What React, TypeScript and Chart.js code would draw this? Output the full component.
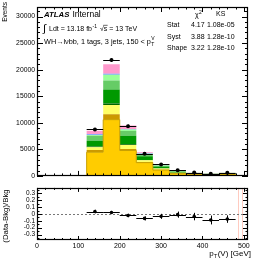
import React, { useEffect, useRef } from 'react';
import { Chart, registerables } from 'chart.js';
Chart.register(...registerables);

const FONT = '"Liberation Sans", Arial, Helvetica, sans-serif';

// ---- data ----
const binEdges = [0, 120, 160, 200, 240, 280, 320, 360, 400, 440, 480, 510];
const ttbar = [0, 4470, 10590, 4780, 2500, 1100, 480, 250, 150, 280, 0];
const stopBkg = [0, 420, 1040, 290, 100, 50, 30, 60, 90, 40, 0];
const wtBkg = [0, 500, 1710, 740, 340, 250, 70, 40, 20, 40, 0];
const wbb = [0, 170, 310, 140, 60, 50, 30, 20, 40, 20, 0];
const wbc = [0, 1060, 2630, 1590, 680, 330, 180, 150, 90, 140, 0];
const wbl = [0, 920, 1660, 910, 240, 150, 90, 50, 20, 40, 0];
const wcc = [0, 180, 1100, 300, 270, 100, 60, 30, 15, 20, 0];
const zjets = [0, 110, 190, 100, 60, 30, 20, 10, 5, 10, 0];
const multijet = [0, 670, 1780, 630, 200, 180, 120, 50, 20, 50, 0];

const dataCenters = [140, 180, 220, 260, 300, 340, 380, 420, 460];
const dataHalfWidth = [20, 20, 20, 20, 20, 20, 20, 20, 20];
const dataValues = [8750, 21800, 9370, 4180, 2170, 1070, 630, 415, 595];
const dataErrors = [94, 148, 97, 65, 47, 33, 25, 20, 24];

const ratioValues = [0.035, 0.022, -0.022, -0.065, -0.035, -0.01, -0.038, -0.088, -0.075];
const ratioErrors = [0.012, 0.008, 0.011, 0.015, 0.022, 0.03, 0.04, 0.05, 0.04];
const ratioMarkerLines = [486, 495, 507];

const mainYTicks = [0, 5000, 10000, 15000, 20000, 25000, 30000];
const xTicks = [0, 100, 200, 300, 400, 500];
const ratioYTicks = [-0.3, -0.2, -0.1, 0, 0.1, 0.2, 0.3];

const statsRows = [
  ['Stat', '4.17', '1.08e-05'],
  ['Syst', '3.88', '1.28e-10'],
  ['Shape', '3.22', '1.28e-10'],
];

const components = [
  { label: 'ttbar', values: ttbar, color: '#FFCC00' },
  { label: 'stop', values: stopBkg, color: '#CC9900' },
  { label: 'Wt', values: wtBkg, color: '#FFFF66' },
  { label: 'Wbb', values: wbb, color: '#006600' },
  { label: 'Wbc', values: wbc, color: '#009900' },
  { label: 'Wbl', values: wbl, color: '#66CC66' },
  { label: 'Wcc', values: wcc, color: '#99FF99' },
  { label: 'Z', values: zjets, color: '#6699FF' },
  { label: 'MJ', values: multijet, color: '#FF99CC' },
];

type TickCfg = {
  xMajor: number; xMinor: number; yMajor: number; yMinor: number;
  xLen: [number, number]; yLen: [number, number];
};

function drawFrameAndTicks(chart: any, cfg: TickCfg) {
  const { ctx, chartArea: a } = chart;
  const xs = chart.scales.x, ys = chart.scales.y;
  ctx.save();
  ctx.strokeStyle = '#000';
  ctx.lineWidth = 1;
  ctx.setLineDash([]);
  ctx.beginPath();
  const isMajor = (v: number, m: number) => Math.abs(v / m - Math.round(v / m)) < 1e-6;
  const kx0 = Math.ceil(xs.min / cfg.xMinor - 1e-9), kx1 = Math.floor(xs.max / cfg.xMinor + 1e-9);
  for (let k = kx0; k <= kx1; k++) {
    const v = k * cfg.xMinor;
    const L = isMajor(v, cfg.xMajor) ? cfg.xLen[0] : cfg.xLen[1];
    const px = Math.round(xs.getPixelForValue(v)) + 0.5;
    ctx.moveTo(px, a.bottom); ctx.lineTo(px, a.bottom - L);
    ctx.moveTo(px, a.top); ctx.lineTo(px, a.top + L);
  }
  const ky0 = Math.ceil(ys.min / cfg.yMinor - 1e-9), ky1 = Math.floor(ys.max / cfg.yMinor + 1e-9);
  for (let k = ky0; k <= ky1; k++) {
    const v = k * cfg.yMinor;
    const L = isMajor(v, cfg.yMajor) ? cfg.yLen[0] : cfg.yLen[1];
    const py = Math.round(ys.getPixelForValue(v)) + 0.5;
    ctx.moveTo(a.left, py); ctx.lineTo(a.left + L, py);
    ctx.moveTo(a.right, py); ctx.lineTo(a.right - L, py);
  }
  ctx.stroke();
  ctx.lineWidth = 1.2;
  ctx.strokeRect(Math.round(a.left) + 0.5, Math.round(a.top) + 0.5,
    Math.round(a.right - a.left) - 1, Math.round(a.bottom - a.top) - 1);
  ctx.restore();
}

function drawErrorBars(chart: any, centers: number[], half: number[], vals: number[], errs: number[]) {
  const { ctx } = chart;
  const xs = chart.scales.x, ys = chart.scales.y;
  ctx.save();
  ctx.strokeStyle = '#000';
  ctx.lineWidth = 1;
  ctx.beginPath();
  for (let i = 0; i < centers.length; i++) {
    const y = Math.round(ys.getPixelForValue(vals[i])) + 0.5;
    ctx.moveTo(xs.getPixelForValue(centers[i] - half[i]), y);
    ctx.lineTo(xs.getPixelForValue(centers[i] + half[i]), y);
    const x = Math.round(xs.getPixelForValue(centers[i])) + 0.5;
    ctx.moveTo(x, ys.getPixelForValue(vals[i] - errs[i]) + 1);
    ctx.lineTo(x, ys.getPixelForValue(vals[i] + errs[i]) - 1);
  }
  ctx.stroke();
  ctx.restore();
}

function drawMainText(chart: any) {
  const { ctx } = chart;
  ctx.save();
  ctx.fillStyle = '#000';
  ctx.strokeStyle = '#000';
  ctx.textBaseline = 'middle';
  ctx.textAlign = 'left';
  // ATLAS Internal
  ctx.font = `italic bold 7.8px ${FONT}`;
  ctx.fillText('ATLAS', 44, 15);
  const wA = ctx.measureText('ATLAS').width;
  ctx.font = `8.5px ${FONT}`;
  ctx.fillText('Internal', 44 + wA + 3, 15);
  // luminosity
  ctx.font = `11px ${FONT}`;
  ctx.fillText('\u222B', 43, 29);
  ctx.font = `7px ${FONT}`;
  const lumi = 'Ldt = 13.18 fb';
  ctx.fillText(lumi, 49, 29.5);
  const wl = ctx.measureText(lumi).width;
  ctx.font = `5px ${FONT}`;
  ctx.fillText('-1', 49 + wl + 0.5, 26.5);
  ctx.font = `7px ${FONT}`;
  ctx.fillText('\u221As = 13 TeV', 100, 29.5);
  const wsq = ctx.measureText('\u221A').width;
  const wsS = ctx.measureText('s').width;
  ctx.beginPath();
  ctx.lineWidth = 0.6;
  ctx.moveTo(100 + wsq - 0.5, 25.3);
  ctx.lineTo(100 + wsq + wsS + 0.3, 25.3);
  ctx.stroke();
  // region
  ctx.font = `7.3px ${FONT}`;
  const reg = 'WH\u2192l\u03BDbb, 1 tags, 3 jets, 150 < p';
  ctx.fillText(reg, 44, 42);
  const wr = ctx.measureText(reg).width;
  ctx.font = `5px ${FONT}`;
  ctx.fillText('T', 44 + wr + 0.3, 44.5);
  ctx.fillText('V', 44 + wr + 0.3, 39);
  // stats table
  ctx.font = `7px ${FONT}`;
  ctx.fillText('\u03C7', 195, 15);
  ctx.font = `5px ${FONT}`;
  ctx.fillText('2', 199, 12.5);
  ctx.font = `7px ${FONT}`;
  ctx.fillText('KS', 216, 14.5);
  const rowY = [25.5, 37, 48.5];
  statsRows.forEach((r, i) => {
    ctx.fillText(r[0], 167, rowY[i]);
    ctx.fillText(r[1], 191, rowY[i]);
    ctx.fillText(r[2], 207, rowY[i]);
  });
  // y title
  ctx.save();
  ctx.translate(5.5, 2);
  ctx.rotate(-Math.PI / 2);
  ctx.textAlign = 'right';
  ctx.font = `6.5px ${FONT}`;
  ctx.fillText('Events', 0, 0);
  ctx.restore();
  ctx.restore();
}

function drawRatioText(chart: any) {
  const { ctx } = chart;
  ctx.save();
  ctx.fillStyle = '#000';
  ctx.textBaseline = 'middle';
  // x title
  ctx.font = `8px ${FONT}`;
  ctx.textAlign = 'right';
  const rest = '(V) [GeV]';
  const wRest = ctx.measureText(rest).width;
  const right = 251;
  ctx.fillText(rest, right, 72);
  ctx.font = `5.5px ${FONT}`;
  const wT = ctx.measureText('T').width;
  ctx.fillText('T', right - wRest - 0.3, 74.5);
  ctx.font = `8px ${FONT}`;
  ctx.fillText('p', right - wRest - wT - 0.6, 72);
  // y title
  ctx.save();
  ctx.translate(6, 34);
  ctx.rotate(-Math.PI / 2);
  ctx.textAlign = 'center';
  ctx.font = `7.8px ${FONT}`;
  ctx.fillText('(Data-Bkg)/Bkg', 0, 0);
  ctx.restore();
  ctx.restore();
}

const nBins = binEdges.length - 1;
const setTicks = (vals: number[]) => (s: any) => { s.ticks = vals.map((v) => ({ value: v })); };

export default function App() {
  const mainRef = useRef<HTMLCanvasElement>(null);
  const ratioRef = useRef<HTMLCanvasElement>(null);

  useEffect(() => {
    let cum = new Array(nBins).fill(0);
    const stackSets = components.map((c, idx) => {
      cum = cum.map((v: number, i: number) => v + c.values[i]);
      const cur = cum;
      return {
        type: 'line' as const,
        label: c.label,
        data: binEdges.map((e, i) => ({ x: e, y: cur[Math.min(i, nBins - 1)] })),
        stepped: true,
        fill: idx === 0 ? 'origin' : '-1',
        backgroundColor: c.color,
        borderColor: idx === 0 ? '#C9A000' : 'rgba(0,0,0,0)',
        borderWidth: idx === 0 ? 1 : 0,
        pointRadius: 0,
        order: 10,
      };
    });
    const dataSet = {
      type: 'scatter' as const,
      label: 'Data',
      data: dataCenters.map((x, i) => ({ x, y: dataValues[i] })),
      pointRadius: 2,
      pointBackgroundColor: '#000',
      pointBorderWidth: 0,
      showLine: false,
      order: -1,
    };

    const mainCfg: TickCfg = { xMajor: 100, xMinor: 20, yMajor: 5000, yMinor: 1000, xLen: [5, 2.5], yLen: [6, 3] };
    const c1 = new Chart(mainRef.current!, {
      type: 'line',
      data: { datasets: [...stackSets, dataSet] as any },
      options: {
        responsive: false,
        devicePixelRatio: 1,
        animation: false,
        layout: { padding: { top: 7, right: 5, bottom: 2, left: 0 } },
        plugins: { legend: { display: false }, tooltip: { enabled: false } },
        scales: {
          x: { type: 'linear', min: 0, max: 510, display: false },
          y: {
            type: 'linear', min: 0, max: 31800,
            grid: { display: false, drawTicks: false },
            border: { display: false },
            ticks: {
              padding: 2, color: '#000', autoSkip: false,
              font: { family: FONT, size: 6.8 },
              callback: (v: any) => String(v),
            },
            afterBuildTicks: setTicks(mainYTicks),
            afterFit: (s: any) => { s.width = 37; },
          },
        },
      },
      plugins: [{
        id: 'mainDeco',
        afterDatasetsDraw(chart: any) {
          drawErrorBars(chart, dataCenters, dataHalfWidth, dataValues, dataErrors);
          drawFrameAndTicks(chart, mainCfg);
        },
        afterDraw(chart: any) { drawMainText(chart); },
      }],
    });

    const ratioCfg: TickCfg = { xMajor: 100, xMinor: 20, yMajor: 0.1, yMinor: 0.05, xLen: [4, 2], yLen: [5, 2.5] };
    const c2 = new Chart(ratioRef.current!, {
      type: 'scatter',
      data: {
        datasets: [{
          label: 'ratio',
          data: dataCenters.map((x, i) => ({ x, y: ratioValues[i] })),
          pointRadius: 1.8,
          pointBackgroundColor: '#000',
          pointBorderWidth: 0,
        }],
      },
      options: {
        responsive: false,
        devicePixelRatio: 1,
        animation: false,
        layout: { padding: { top: 3, right: 5, bottom: 0, left: 0 } },
        plugins: { legend: { display: false }, tooltip: { enabled: false } },
        scales: {
          x: {
            type: 'linear', min: 0, max: 510,
            grid: { display: false, drawTicks: false },
            border: { display: false },
            ticks: {
              padding: 2, color: '#000', maxRotation: 0, autoSkip: false,
              font: { family: FONT, size: 7 },
              callback: (v: any) => String(v),
            },
            afterBuildTicks: setTicks(xTicks),
            afterFit: (s: any) => { s.height = 19; },
          },
          y: {
            type: 'linear', min: -0.38, max: 0.38,
            grid: { display: false, drawTicks: false },
            border: { display: false },
            ticks: {
              padding: 2, color: '#000', autoSkip: false,
              font: { family: FONT, size: 6.5 },
              callback: (v: any) => (Math.abs(v) < 1e-9 ? '0' : (+v).toFixed(1)),
            },
            afterBuildTicks: setTicks(ratioYTicks),
            afterFit: (s: any) => { s.width = 37; },
          },
        },
      },
      plugins: [{
        id: 'ratioDeco',
        beforeDatasetsDraw(chart: any) {
          const { ctx, chartArea: a } = chart;
          const xs = chart.scales.x, ys = chart.scales.y;
          ctx.save();
          ctx.strokeStyle = 'rgba(255,160,140,0.55)';
          ctx.lineWidth = 1;
          ctx.beginPath();
          ratioMarkerLines.forEach((v) => {
            const px = Math.round(xs.getPixelForValue(v)) + 0.5;
            ctx.moveTo(px, a.top); ctx.lineTo(px, a.bottom);
          });
          ctx.stroke();
          ctx.strokeStyle = '#777';
          ctx.setLineDash([2, 2]);
          ctx.beginPath();
          const py = Math.round(ys.getPixelForValue(0)) + 0.5;
          ctx.moveTo(a.left, py); ctx.lineTo(a.right, py);
          ctx.stroke();
          ctx.restore();
        },
        afterDatasetsDraw(chart: any) {
          drawErrorBars(chart, dataCenters, dataHalfWidth, ratioValues, ratioErrors);
          drawFrameAndTicks(chart, ratioCfg);
        },
        afterDraw(chart: any) { drawRatioText(chart); },
      }],
    });

    return () => { c1.destroy(); c2.destroy(); };
  }, []);

  return (
    <div style={{ position: 'fixed', left: 0, top: 0, width: 253, height: 259, background: '#fff' }}>
      <canvas ref={mainRef} width={253} height={182} style={{ position: 'absolute', left: 0, top: 0 }} />
      <canvas ref={ratioRef} width={253} height={77} style={{ position: 'absolute', left: 0, top: 182 }} />
    </div>
  );
}
